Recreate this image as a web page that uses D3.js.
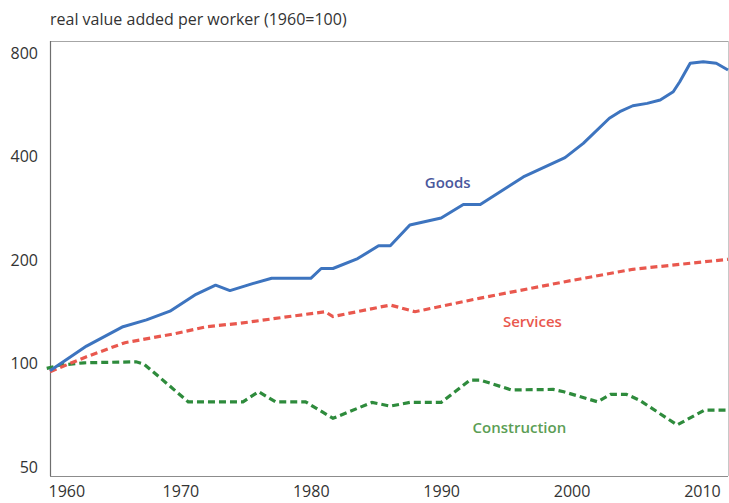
<!DOCTYPE html>
<html>
<head>
<meta charset="utf-8">
<script src="https://cdn.jsdelivr.net/npm/d3@7"></script>
<style>
  html, body { margin: 0; padding: 0; background: #fff; }
  svg { display: block; font-family: "Open Sans", "Noto Sans", sans-serif; }
</style>
</head>
<body>
<svg id="chart" width="729" height="503"></svg>
<script>
// ---- data ----
const titleText = "real value added per worker (1960=100)";
const yTickValues = [50, 100, 200, 400, 800];
const xTickValues = [1960, 1970, 1980, 1990, 2000, 2010];

const goodsYears = [1960, 1962.8, 1965.6, 1967.4, 1969.2, 1971.2, 1972.7, 1973.8, 1975.6, 1977, 1980, 1980.8, 1981.7, 1983.6, 1985.2, 1986.1, 1987.6, 1990, 1991.7, 1993, 1996.3, 1999.5, 2000.9, 2002.9, 2003.7, 2004.7, 2005.8, 2006.8, 2007.8, 2008.3, 2009.1, 2010.1, 2011.1, 2012];
const goodsValues = [95.3, 112.4, 128, 134, 142, 159, 169, 163, 171, 177, 177, 189, 189, 202, 220, 220, 253, 265, 290, 290, 349, 397, 437, 517, 540, 562, 571, 584, 617, 660, 747, 755, 747, 714];

const servicesYears = [1960, 1962.8, 1965.75, 1969.5, 1972, 1974.6, 1977.1, 1981.1, 1981.7, 1986.1, 1988, 1993, 1999.5, 2004.7, 2012];
const servicesValues = [94.7, 104.7, 115, 122, 128, 131, 135, 141.5, 137, 148, 141.5, 155, 173, 188, 201];

const constructionYears = [1959.75, 1960.8, 1962.6, 1966.6, 1967.2, 1967.9, 1970.6, 1974.8, 1976, 1977.3, 1979.6, 1981.7, 1984.7, 1986.1, 1987.6, 1990, 1992.2, 1993, 1995.4, 1998.6, 1999.4, 2002, 2003, 2004.2, 2005.2, 2008.1, 2010.2, 2012];
const constructionValues = [96.8, 99, 100.5, 101.2, 99.7, 94.7, 77.4, 77.4, 82.8, 77.4, 77.4, 69.3, 77.1, 75.2, 77.1, 77.1, 89.5, 89.5, 83.8, 84.1, 82.8, 77.4, 81.4, 81.4, 78.3, 66.3, 73.2, 73.2];

const seriesNames = ["Goods", "Services", "Construction"];

// ---- layout ----
const svg = d3.select("#chart");
const plotL = 50, plotR = 728, plotT = 41, plotB = 476;

const x = d3.scaleLinear().domain([1960, 2012]).range([plotL, plotR]);
const y = d3.scaleLog().domain([47.1, 867]).range([plotB, plotT]);

// title
svg.append("text")
  .attr("x", 50).attr("y", 25)
  .attr("font-size", 16).attr("fill", "#333")
  .text(titleText);

// frame
svg.append("line").attr("x1", plotL).attr("x2", plotR).attr("y1", plotT + 0.5).attr("y2", plotT + 0.5)
  .attr("stroke", "#a6a6a6").attr("stroke-width", 1);
svg.append("line").attr("x1", plotR + 0.5).attr("x2", plotR + 0.5).attr("y1", plotT).attr("y2", plotB)
  .attr("stroke", "#c8c8c8").attr("stroke-width", 1);

// y axis
const yAxis = svg.append("g")
  .attr("transform", `translate(${plotL},0)`)
  .call(d3.axisLeft(y).tickValues(yTickValues).tickSize(0).tickPadding(12).tickFormat(d3.format("d")));
yAxis.select(".domain").attr("stroke", "#6e6e6e").attr("stroke-width", 1.2).attr("d", `M0.5,${plotT}V${plotB}`);
yAxis.selectAll("text").attr("font-size", 16).attr("fill", "#333").attr("font-family", "\"Open Sans\", sans-serif");

// x axis
const xAxis = svg.append("g")
  .attr("transform", `translate(0,${plotB})`)
  .call(d3.axisBottom(x).tickValues(xTickValues).tickSize(0).tickPadding(10).tickFormat(d3.format("d")));
xAxis.select(".domain").attr("stroke", "#8c8c8c").attr("stroke-width", 1.2).attr("d", `M${plotL},0.5H${plotR}`);
xAxis.selectAll("text").attr("font-size", 16).attr("fill", "#333").attr("font-family", "\"Open Sans\", sans-serif")
  .attr("text-anchor", d => d === 1960 ? "start" : "middle")
  .attr("dx", d => d === 1960 ? -2 : 0);

// lines
const line = d3.line().x(d => x(d[0])).y(d => y(d[1]));
const zip = (a, b) => a.map((v, i) => [v, b[i]]);

svg.append("path").datum(zip(constructionYears, constructionValues))
  .attr("d", line).attr("fill", "none")
  .attr("stroke", "#2e8b3c").attr("stroke-width", 3.2).attr("stroke-dasharray", "7,4");

svg.append("path").datum(zip(servicesYears, servicesValues))
  .attr("d", line).attr("fill", "none")
  .attr("stroke", "#e9584e").attr("stroke-width", 3.2).attr("stroke-dasharray", "7,4");

svg.append("path").datum(zip(goodsYears, goodsValues))
  .attr("d", line).attr("fill", "none")
  .attr("stroke", "#3d74bf").attr("stroke-width", 3)
  .attr("stroke-linejoin", "round");

// series labels
const labelX = [1990.5, 1997, 1996];
const labelV = [335, 132.3, 64.9];
const labelColor = ["#4a589d", "#e9584e", "#5c9e55"];
svg.selectAll(".slabel").data(seriesNames).enter().append("text")
  .attr("class", "slabel")
  .attr("x", (d, i) => x(labelX[i]))
  .attr("y", (d, i) => y(labelV[i]))
  .attr("dy", "0.35em")
  .attr("text-anchor", "middle")
  .attr("font-size", 15).attr("font-weight", 600)
  .attr("fill", (d, i) => labelColor[i])
  .text(d => d);
</script>
</body>
</html>
